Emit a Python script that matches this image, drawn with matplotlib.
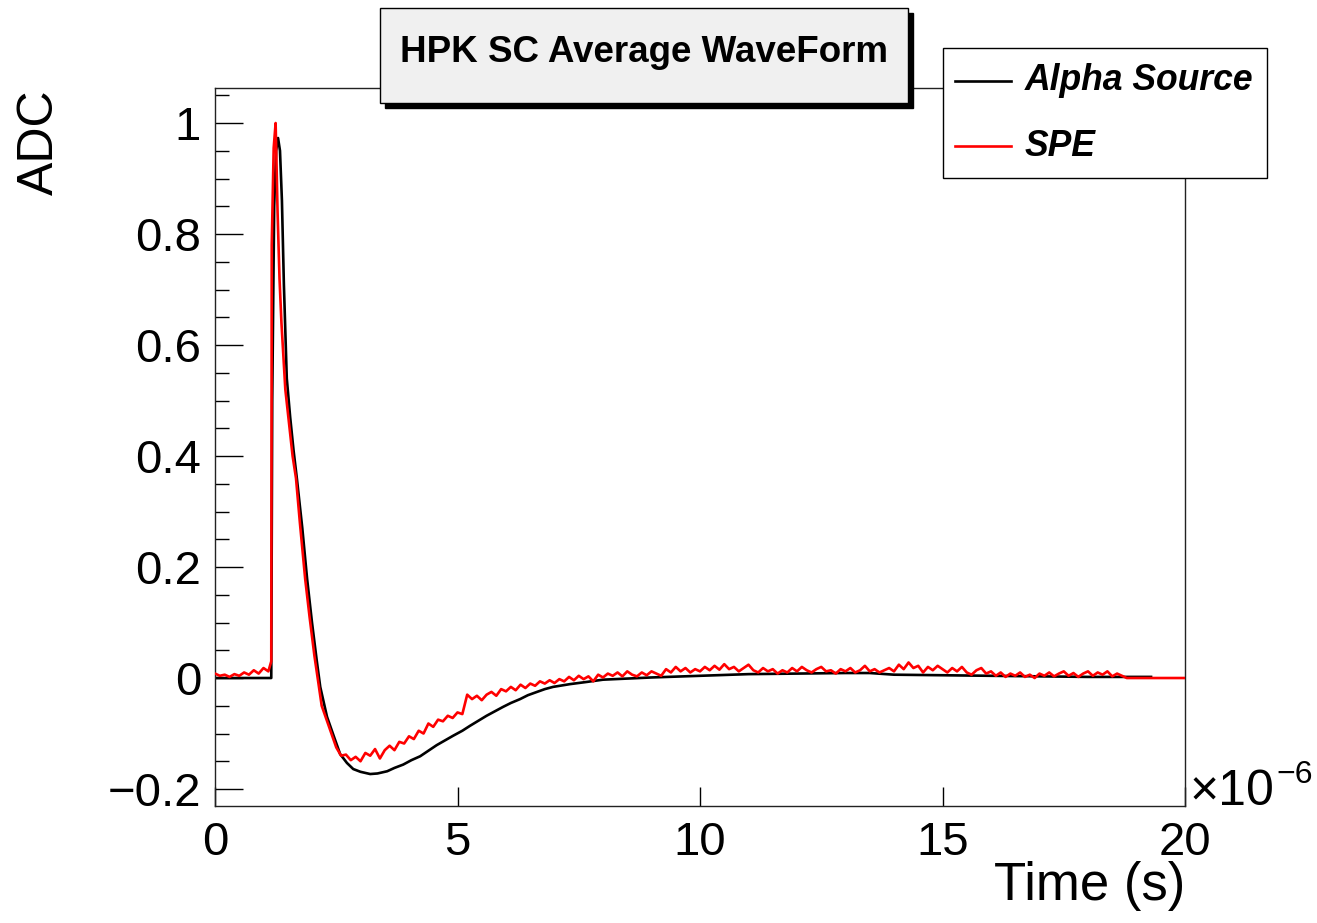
import numpy as np
import matplotlib
matplotlib.use("Agg")
import matplotlib.pyplot as plt
from matplotlib.patches import Rectangle
from matplotlib.lines import Line2D

plt.rcParams['font.family'] = ['Liberation Sans', 'DejaVu Sans']

# ---------------- data (time in microseconds, amplitude normalised ADC) ----------------
alpha_t = [0, 1.16, 1.18, 1.22, 1.26, 1.30, 1.34, 1.38, 1.42, 1.48, 1.55, 1.62, 1.69, 1.8, 1.9,
           2.0, 2.1, 2.17, 2.31, 2.45, 2.58, 2.72, 2.85, 3.0, 3.2, 3.35, 3.55, 3.7, 3.88, 4.05,
           4.23, 4.4, 4.57, 4.75, 4.91, 5.1, 5.26, 5.43, 5.6, 5.77, 5.94, 6.1, 6.29, 6.45, 6.64,
           6.8, 6.97, 7.32, 7.67, 8, 9, 10, 11, 12, 13, 13.5, 14, 15, 16, 17, 18, 19, 19.3]
alpha_v = [0, 0.0, 0.5, 0.85, 0.95, 0.973, 0.95, 0.86, 0.71, 0.54, 0.47, 0.41, 0.358, 0.27, 0.178,
           0.10, 0.03, -0.016, -0.07, -0.105, -0.137, -0.153, -0.164, -0.169, -0.173, -0.172,
           -0.168, -0.162, -0.156, -0.148, -0.141, -0.131, -0.121, -0.112, -0.104, -0.095,
           -0.086, -0.077, -0.068, -0.06, -0.052, -0.045, -0.038, -0.031, -0.025, -0.02, -0.016,
           -0.011, -0.007, -0.003, 0.001, 0.004, 0.007, 0.008, 0.009, 0.009, 0.006, 0.005,
           0.004, 0.003, 0.002, 0.002, 0.002]

spe_t_head = [0, 0.1, 0.2, 0.3, 0.4, 0.5, 0.6, 0.7, 0.8, 0.9, 1.0, 1.1, 1.16, 1.17, 1.21, 1.25,
              1.29, 1.33, 1.37, 1.41, 1.45, 1.5, 1.55, 1.6, 1.67, 1.75, 1.86, 1.95, 2.05]
spe_v_head = [0.008, 0.004, 0.006, 0.002, 0.007, 0.004, 0.01, 0.006, 0.014, 0.008, 0.018, 0.012,
              0.03, 0.78, 0.955, 1.0, 0.84, 0.72, 0.64, 0.58, 0.52, 0.48, 0.44, 0.40, 0.36, 0.28,
              0.178, 0.11, 0.04]
# regular 0.1 us samples from 2.2 us to 18.8 us
spe_t_body = list(np.round(np.arange(2.2, 18.85, 0.1), 2))
spe_v_body = [
    -0.05, -0.075, -0.10, -0.125, -0.14, -0.138, -0.148, -0.142, -0.15, -0.135,
    -0.14, -0.128, -0.145, -0.13, -0.122, -0.13, -0.115, -0.118, -0.105, -0.11,
    -0.095, -0.1, -0.082, -0.088, -0.075, -0.078, -0.068, -0.072, -0.062, -0.065,
    -0.03, -0.038, -0.032, -0.04, -0.03, -0.025, -0.032, -0.02, -0.024, -0.016,
    -0.022, -0.012, -0.018, -0.01, -0.014, -0.006, -0.01, -0.004, -0.009, -0.002,
    -0.006, 0.002, -0.004, 0.004, -0.002, 0.003, -0.006, 0.006, 0.001, 0.008,
    0.004, 0.01, 0.003, 0.012, 0.006, 0.003, 0.01, 0.005, 0.012, 0.008,
    0.004, 0.016, 0.01, 0.02, 0.012, 0.018, 0.01, 0.016, 0.012, 0.02,
    0.014, 0.022, 0.015, 0.025, 0.016, 0.02, 0.012, 0.018, 0.024, 0.014,
    0.01, 0.018, 0.012, 0.016, 0.008, 0.014, 0.01, 0.018, 0.012, 0.02,
    0.014, 0.01, 0.016, 0.02, 0.012, 0.014, 0.008, 0.016, 0.012, 0.018,
    0.01, 0.014, 0.022, 0.012, 0.016, 0.01, 0.014, 0.018, 0.012, 0.024,
    0.016, 0.028, 0.018, 0.022, 0.01, 0.02, 0.014, 0.022, 0.016, 0.01,
    0.018, 0.012, 0.02, 0.01, 0.006, 0.014, 0.018, 0.008, 0.012, 0.004,
    0.01, 0.002, 0.008, 0.004, 0.01, 0.002, 0.006, 0.0, 0.008, 0.004,
    0.01, 0.003, 0.008, 0.012, 0.004, 0.009, 0.002, 0.008, 0.012, 0.004,
    0.01, 0.006, 0.012, 0.003, 0.008, 0.004, 0.0]
spe_t_tail = [18.85, 20.0]
spe_v_tail = [0.0, 0.0]

spe_t = spe_t_head + spe_t_body + spe_t_tail
spe_v = spe_v_head + spe_v_body + spe_v_tail

x_ticks = [0, 5, 10, 15, 20]
x_ticklabels = ['0', '5', '10', '15', '20']
y_ticks = [-0.2, 0, 0.2, 0.4, 0.6, 0.8, 1]
y_ticklabels = ['\u22120.2', '0', '0.2', '0.4', '0.6', '0.8', '1']

title = 'HPK SC Average WaveForm'
series_names = ['Alpha Source', 'SPE']
series_colors = ['black', 'red']

# ---------------- figure ----------------
W, H = 1317, 923
fig = plt.figure(figsize=(W / 100, H / 100), dpi=100)
fig.patch.set_facecolor('white')

def fx(px):
    return px / W

def fy(py):
    return 1 - py / H

ax = fig.add_axes([fx(215), fy(806), (1185 - 215) / W, (806 - 88) / H])
ax.plot(alpha_t, alpha_v, color=series_colors[0], lw=1.9, zorder=2)
ax.plot(spe_t, spe_v, color=series_colors[1], lw=1.9, zorder=3)

ax.set_xlim(0, 20)
ax.set_ylim(-0.2306, 1.0631)
ax.set_xticks(x_ticks)
ax.set_xticklabels(x_ticklabels)
ax.set_yticks(y_ticks)
ax.set_yticklabels(y_ticklabels)
ax.set_yticks(np.arange(-0.2, 1.06, 0.05), minor=True)
ax.tick_params(axis='x', which='major', direction='in', length=14, width=1.0,
               labelsize=34, pad=11, top=False)
ax.tick_params(axis='y', which='major', direction='in', length=20, width=1.0,
               labelsize=34, pad=10, right=False)
ax.tick_params(axis='y', which='minor', direction='in', length=10, width=1.0, right=False)
ax.tick_params(axis='x', which='minor', bottom=False, top=False)
for s in ax.spines.values():
    s.set_linewidth(1.0)
    s.set_color('#222222')

# axis titles
fig.text(fx(1185), fy(886), 'Time (s)', ha='right', va='center', fontsize=38)
fig.text(fx(40), fy(89), 'ADC', ha='center', va='top', rotation=90, fontsize=36)
fig.text(fx(1190), fy(805), '\u00d710', ha='left', va='baseline', fontsize=36)
fig.text(fx(1276), fy(783), '\u22126', ha='left', va='baseline', fontsize=23)

# title box with shadow
fig.patches.append(Rectangle((fx(385), fy(108)), (908 - 380) / W, (103 - 8) / H,
                             transform=fig.transFigure, facecolor='black',
                             edgecolor='black', zorder=10))
fig.patches.append(Rectangle((fx(380), fy(103)), (908 - 380) / W, (103 - 8) / H,
                             transform=fig.transFigure, facecolor='#f0f0f0',
                             edgecolor='black', lw=1.0, zorder=11))
fig.text(fx(644), fy(53), title, ha='center', va='center', fontsize=26.5,
         fontweight='bold', zorder=12)

# legend box
fig.patches.append(Rectangle((fx(943), fy(178)), (1267 - 943) / W, (178 - 48) / H,
                             transform=fig.transFigure, facecolor='white',
                             edgecolor='black', lw=1.0, zorder=10))
for i, (name, col) in enumerate(zip(series_names, series_colors)):
    yy = [81, 146][i]
    fig.lines.append(Line2D([fx(955), fx(1011)], [fy(yy), fy(yy)], transform=fig.transFigure,
                            color=col, lw=1.9, zorder=11))
    fig.text(fx(1025), fy(yy), name, ha='left', va='center', fontsize=25.6,
             fontweight='bold', fontstyle='italic', zorder=12)

fig.savefig('out.png', dpi=100)
